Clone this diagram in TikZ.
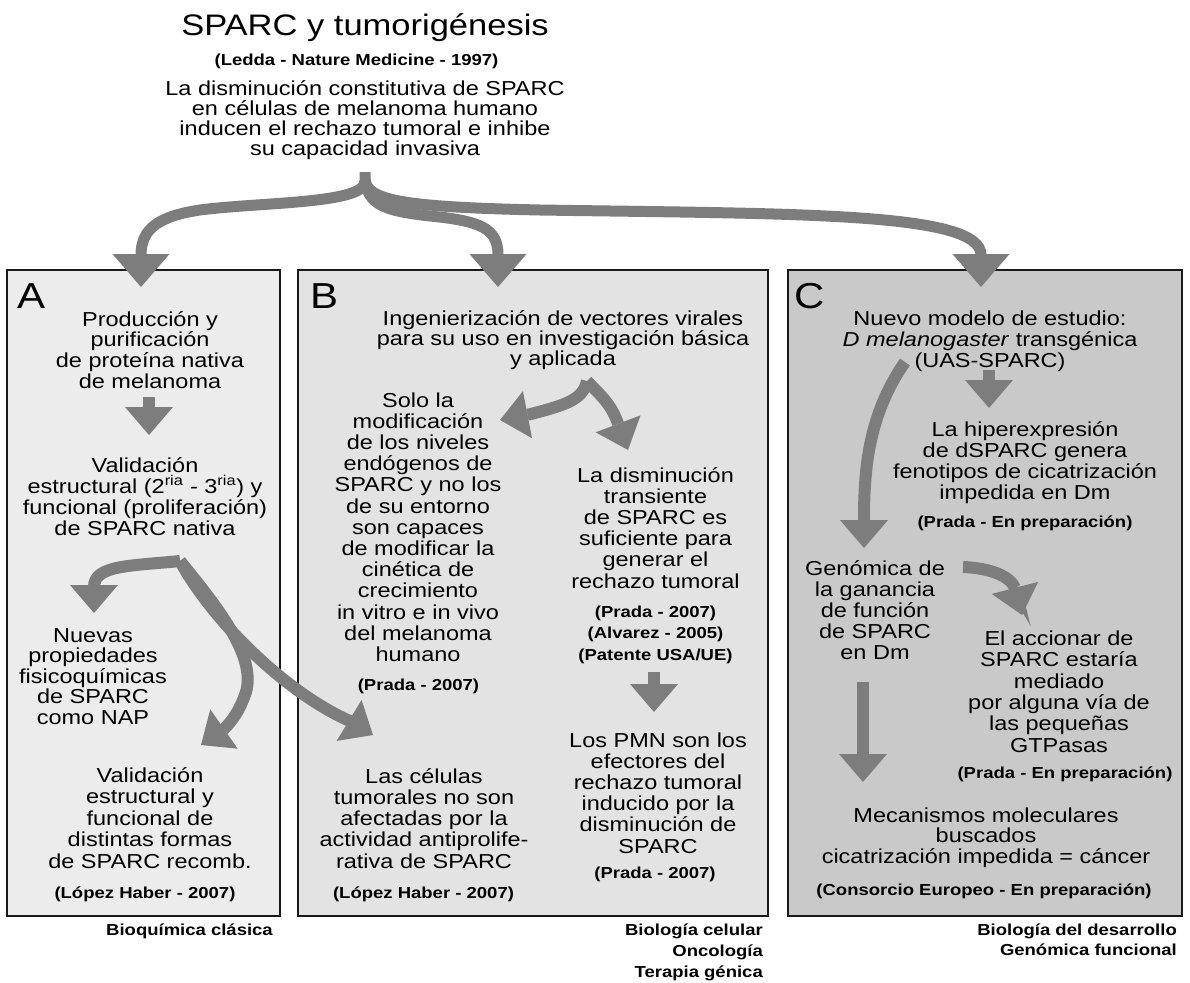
\documentclass[tikz,border=0pt]{standalone}
\usepackage{fontspec}
\setmainfont{Liberation Sans}
\usetikzlibrary{arrows.meta}
\lineskiplimit=-40pt
% invisible strut that fixes the height of a first line
\newcommand\lnstrut{\rule{0pt}{1em}}
\definecolor{arrgray}{RGB}{125,125,125}
\definecolor{fillA}{RGB}{236,236,236}
\definecolor{fillB}{RGB}{227,227,227}
\definecolor{fillC}{RGB}{201,201,201}
\begin{document}
\begin{tikzpicture}[x=1pt,y=-1pt,
  body/.style={font={\fontsize{23.5}{#1}\selectfont}, align=center, inner sep=0pt, anchor=north, yscale=0.86},
  body/.default=24.65,
  cite/.style={font={\bfseries\fontsize{18.5}{25}\selectfont}, align=center, inner sep=0pt, anchor=base, yscale=0.86},
  citeblock/.style={font={\bfseries\fontsize{18.5}{#1}\selectfont}, inner sep=0pt, yscale=0.86},
  citeblock/.default=25,
  titlef/.style={font={\fontsize{34.5}{36}\selectfont}, inner sep=0pt, anchor=base, yscale=0.86},
  letter/.style={font={\fontsize{42}{44}\selectfont}, inner sep=0pt, anchor=base west, yscale=0.86},
  panel/.style={draw=black!90, line width=2.2pt},
  bigarr/.style={draw=arrgray, line width=11pt, -{Triangle[width=57pt 0 0, length=33pt 0 0, line width=0pt]}},
  smallarr/.style={draw=arrgray, line width=12pt, -{Triangle[width=48pt 0 0, length=28pt 0 0, line width=0pt]}}
]
\useasboundingbox (0,0) rectangle (1190,982);
\fill[white] (0,0) rectangle (1190,982);

% panels
\draw[panel, fill=fillA] (7,270) rectangle (280,916);
\draw[panel, fill=fillB] (298,270) rectangle (768,916);
\draw[panel, fill=fillC] (788,270) rectangle (1182,916);

% heading
\node[titlef] (title) at (365,36) {SPARC y tumorigénesis};
\node[cite] (ledda) at (356.5,66) {(Ledda - Nature Medicine - 1997)};
\node[body=23.3] (intro) at (365,74.8) {\lnstrut La disminución constitutiva de SPARC\\en células de melanoma humano\\inducen el rechazo tumoral e inhibe\\su capacidad invasiva};

% branching arrow from the heading
\coordinate (top) at (365,172);
\coordinate (tipA) at (141,287);
\coordinate (tipB) at (498,287);
\coordinate (tipC) at (981,287);
\draw[bigarr] (top) -- (365,182) .. controls (363,204) and (262,202) .. (200,210) .. controls (160,216) and (141,228) .. (141,255) -- (tipA);
\draw[bigarr] (365,180) .. controls (368,205) and (385,211) .. (430,216) .. controls (480,221) and (498,228) .. (498,255) -- (tipB);
\draw[bigarr] (365,180) .. controls (368,200) and (400,207) .. (540,210) .. controls (800,214) and (981,212) .. (981,255) -- (tipC);

% panel A
\node[letter] (letA) at (17,308) {A};
\node[body=24.0] (a1) at (150,305.8) {\lnstrut Producción y\\purificación\\de proteína nativa\\de melanoma};
\node[body=24.4] (a2) at (145,451.8) {\lnstrut Validación\\estructural (2\textsuperscript{ria} - 3\textsuperscript{ria}) y\\funcional (proliferación)\\de SPARC nativa};
\node[body=23.8] (a3) at (93,621.8) {\lnstrut Nuevas\\propiedades\\fisicoquímicas\\de SPARC\\como NAP};
\node[body=25] (a4) at (150,761.8) {\lnstrut Validación\\estructural y\\funcional de\\distintas formas\\de SPARC recomb.};
\node[cite] (a4c) at (145,898) {(López Haber - 2007)};
\node[citeblock, anchor=north east, align=right] (labA) at (273,919.1) {\lnstrut Bioquímica clásica};

\coordinate (a1s) at (149,397);
\coordinate (a1t) at (149,435);
\draw[smallarr] (a1s) -- (a1t);
\coordinate (aF) at (180,561);
\coordinate (aL) at (94,613);
\coordinate (aR) at (201,745);
\coordinate (aB) at (373,735);
\draw[smallarr] (aF) .. controls (130,566) and (94,565) .. (94,587) -- (aL);
\draw[smallarr] (aF) .. controls (222,612) and (258,660) .. (245,695) .. controls (240,708) and (235,718) .. (224,729) -- (aR);
\draw[smallarr] (aF) .. controls (215,625) and (290,695) .. (350,721) -- (aB);

% panel B
\node[letter] (letB) at (310,308) {B};
\node[body=23.3] (b0) at (563,304.8) {\lnstrut Ingenierización de vectores virales\\para su uso en investigación básica\\y aplicada};
\node[body] (b1) at (418,386.8) {\lnstrut Solo la\\modificación\\de los niveles\\endógenos de\\SPARC y no los\\de su entorno\\son capaces\\de modificar la\\cinética de\\crecimiento\\in vitro e in vivo\\del melanoma\\humano};
\node[cite] (b1c) at (418.5,690) {(Prada - 2007)};
\node[body] (b2) at (655.5,461.8) {\lnstrut La disminución\\transiente\\de SPARC es\\suficiente para\\generar el\\rechazo tumoral};
\node[citeblock, anchor=north, align=center] (b2c) at (655.5,601.1) {\lnstrut (Prada - 2007)\\(Alvarez - 2005)\\(Patente USA/UE)};
\node[body] (b3) at (658,726.8) {\lnstrut Los PMN son los\\efectores del\\rechazo tumoral\\inducido por la\\disminución de\\SPARC};
\node[cite] (b3c) at (655,878) {(Prada - 2007)};
\node[body=24.7] (b4) at (424,762.8) {\lnstrut Las células\\tumorales no son\\afectadas por la\\actividad antiprolife-\\rativa de SPARC};
\node[cite] (b4c) at (423.5,898) {(López Haber - 2007)};
\node[citeblock=24.4, anchor=north east, align=right] (labB) at (763,919.1) {\lnstrut Biología celular\\Oncología\\Terapia génica};

\coordinate (bF) at (587,381);
\coordinate (bL) at (500,420);
\coordinate (bR) at (628,450);
\draw[smallarr] (bF) .. controls (583,400) and (565,405) .. (531,414) -- (bL);
\draw[smallarr] (bF) .. controls (597,392) and (610,402) .. (617,421) -- (bR);
\coordinate (b2s) at (654,672);
\coordinate (b2t) at (654,712);
\draw[smallarr] (b2s) -- (b2t);

% panel C
\node[letter] (letC) at (794,308) {C};
\node[body=24.4] (c0) at (990,304.8) {\lnstrut Nuevo modelo de estudio:\\\textit{D melanogaster} transgénica\\(UAS-SPARC)};
\node[body=24.4] (c1) at (1025,415.8) {\lnstrut La hiperexpresión\\de dSPARC genera\\fenotipos de cicatrización\\impedida en Dm};
\node[cite] (c1c) at (1025,527) {(Prada - En preparación)};
\node[body=24.4] (c2) at (875,554.8) {\lnstrut Genómica de\\la ganancia\\de función\\de SPARC\\en Dm};
\node[body=24.9] (c3) at (1059,624.8) {\lnstrut El accionar de\\SPARC estaría\\mediado\\por alguna vía de\\las pequeñas\\GTPasas};
\node[cite] (c3c) at (1065,778) {(Prada - En preparación)};
\node[body=23.8] (c4) at (986,801.8) {\lnstrut Mecanismos moleculares\\buscados\\cicatrización impedida = cáncer};
\node[cite] (c4c) at (984,895) {(Consorcio Europeo - En preparación)};
\node[citeblock=23.3, anchor=north east, align=right] (labC) at (1177,919.1) {\lnstrut Biología del desarrollo\\Genómica funcional};

\coordinate (c1s) at (989,370);
\coordinate (c1t) at (989,408);
\draw[smallarr] (c1s) -- (c1t);
\coordinate (cBs) at (905,362);
\coordinate (cBt) at (864,548);
\draw[smallarr] (cBs) .. controls (868,415) and (864,470) .. (864,520) -- (cBt);
\coordinate (cGs) at (963,567);
\coordinate (cGt) at (1022,615);
\draw[smallarr] (cGs) .. controls (990,568) and (1010,576) .. (1015,588) -- (cGt);
\coordinate (cDs) at (863,682);
\coordinate (cDt) at (863,782);
\draw[smallarr] (cDs) -- (cDt);
\end{tikzpicture}
\end{document}
